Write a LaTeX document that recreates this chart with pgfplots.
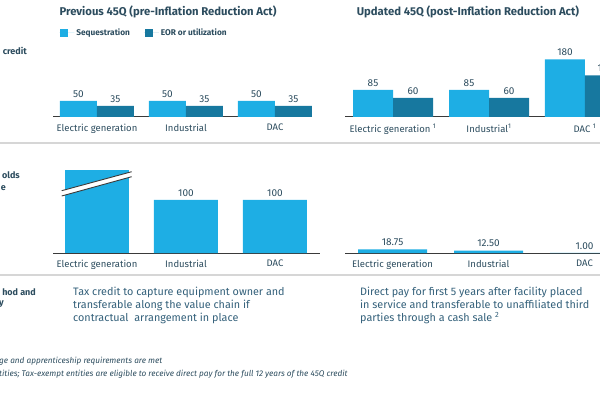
\documentclass[border=0pt]{standalone}
\usepackage{pgfplots}
\pgfplotsset{compat=1.18}
\usepackage{fontspec}
\setmainfont{Fira Sans}
\definecolor{seq}{HTML}{1EAEE4}
\definecolor{eor}{HTML}{17789F}
\definecolor{txt}{HTML}{2C4C5E}
\definecolor{body}{HTML}{33607A}
\definecolor{sepc}{HTML}{D6D6D6}
\definecolor{axl}{HTML}{3A3A3A}
\newcommand\catfont{\fontsize{9.5}{10}\selectfont}
\newcommand\valfont{\fontsize{10}{11}\selectfont}
\pgfplotsset{
  base/.style={
    scale only axis, anchor=south west, ymin=0,
    axis x line*=bottom, axis y line=none,
    axis line style={draw=axl, line width=1pt},
    xtick={0,1,2}, major tick length=0pt,
    xticklabel style={font=\catfont, text=txt, yshift=-3.5pt},
    every node near coord/.append style={font=\valfont, text=txt},
    /pgf/number format/assume math mode=true,
  }
}
\begin{document}
\begin{tikzpicture}
\useasboundingbox (0pt,0pt) rectangle (600pt,400pt);
% top left
\begin{axis}[base, at={(53pt,283pt)}, width=259pt, height=60pt,
  xmin=-0.494, xmax=2.416, ymax=187.5, ybar=0pt, bar width=37pt,
  xticklabels={Electric generation, Industrial, DAC},
  nodes near coords,
  legend style={at={(0.012,1.4)}, anchor=west, draw=none, fill=none,
    legend columns=2, font=\fontsize{8.3}{9}\bfseries, text=txt,
    /tikz/every even column/.append style={column sep=12pt}},
  legend image code/.code={\fill[#1] (1pt,-4pt) rectangle (9pt,4pt);\path (0pt,0pt) -- (15pt,0pt);}]
\addplot[fill=seq, draw=none] coordinates {(0,50) (1,50) (2,50)};
\addplot[fill=eor, draw=none] coordinates {(0,35) (1,35) (2,35)};
\legend{Sequestration, EOR or utilization}
\end{axis}
% top right
\begin{axis}[base, at={(345pt,283pt)}, width=295pt, height=60pt,
  xmin=-0.5, xmax=2.573, ymax=187.5, ybar=0pt, bar width=40pt,
  xticklabels={Electric generation \textsuperscript{1}, Industrial\textsuperscript{1}, DAC \textsuperscript{1}},
  nodes near coords]
\addplot[fill=seq, draw=none] coordinates {(0,85) (1,85) (2,180)};
\addplot[fill=eor, draw=none] coordinates {(0,60) (1,60) (2,130)};
\end{axis}
% bottom left
\begin{axis}[base, at={(53pt,147pt)}, width=267pt, height=83pt,
  xmin=-0.494, xmax=2.506, ymax=156.6, ybar, bar width=64pt,
  xticklabels={Electric generation, Industrial, DAC}]
\addplot[fill=seq, draw=none, bar shift=0pt] coordinates {(0,500)};
\addplot[fill=seq, draw=none, bar shift=0pt, nodes near coords] coordinates {(1,100) (2,100)};
\node[font=\valfont, text=txt, above, inner sep=3pt] at (axis cs:0,156.6) {500};
\end{axis}
% bottom right
\begin{axis}[base, at={(345pt,147pt)}, width=295pt, height=83pt,
  xmin=-0.495, xmax=2.578, ymax=415, ybar, bar width=69pt,
  xticklabels={Electric generation, Industrial, DAC},
  nodes near coords={\pgfmathprintnumber[fixed,fixed zerofill,precision=2]{\pgfplotspointmeta}}]
\addplot[fill=seq, draw=none] coordinates {(0,18.75) (1,12.50) (2,1.00)};
\end{axis}
\begin{scope}[shift={(0pt,400pt)}, x=1pt, y=-1pt]
% break mark
\fill[white] (61.7,190.7) -- (131.7,171.7) -- (131.7,176.7) -- (61.7,196) -- cycle;
\draw[axl, line width=0.9pt] (61.7,190.7) -- (131.7,171.7);
\draw[axl, line width=0.9pt] (61.7,196) -- (131.7,176.7);
% separators
\draw[sepc, line width=1.5pt] (0,143) -- (600,143);
\draw[sepc, line width=1.5pt] (0,275) -- (600,275);
% titles
\node[font=\fontsize{11.3}{13}\bfseries, text=txt] at (168,12) {Previous 45Q (pre-Inflation Reduction Act)};
\node[font=\fontsize{11.3}{13}\bfseries, text=txt] at (468,12) {Updated 45Q (post-Inflation Reduction Act)};
% left edge texts
\node[font=\fontsize{9}{10}\bfseries, text=txt, anchor=base east, inner sep=0pt] at (27,55) {credit};
\node[font=\fontsize{9}{10}\bfseries, text=txt, anchor=base east, inner sep=0pt] at (20,178) {olds};
\node[font=\fontsize{9}{10}\bfseries, text=txt, anchor=base east, inner sep=0pt] at (6,190) {e};
\node[font=\fontsize{9}{10}\bfseries, text=txt, anchor=base east, inner sep=0pt] at (36,295) {hod and};
\node[font=\fontsize{9}{10}\bfseries, text=txt, anchor=base east, inner sep=0pt] at (4,305) {y};
% body text
\node[font=\fontsize{10.8}{13}\selectfont, text=body, anchor=north west, align=left, inner sep=0pt] at (73,287)
  {Tax credit to capture equipment owner and\\transferable along the value chain if\\contractual\ \ arrangement in place};
\node[font=\fontsize{10.8}{13}\selectfont, text=body, anchor=north west, align=left, inner sep=0pt] at (360,287)
  {Direct pay for first 5 years after facility placed\\in service and transferable to unaffiliated third\\parties through a cash sale \textsuperscript{2}};
% footnotes
\node[font=\fontsize{8.2}{9}\itshape, text=txt, anchor=base west, inner sep=0pt] at (-1,363.5) {ge and apprenticeship requirements are met};
\node[font=\fontsize{8.2}{9}\itshape, text=txt, anchor=base west, inner sep=0pt] at (-1,376.5) {tities; Tax-exempt entities are eligible to receive direct pay for the full 12 years of the 45Q credit};
\end{scope}
\end{tikzpicture}
\end{document}
